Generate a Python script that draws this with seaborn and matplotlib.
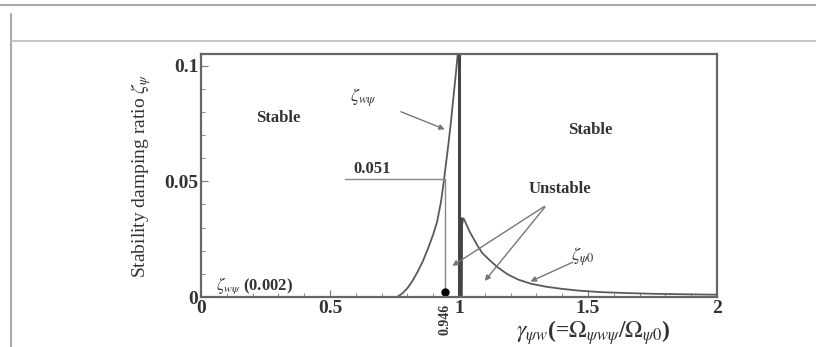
import matplotlib
matplotlib.use("Agg")
import matplotlib.pyplot as plt
import seaborn as sns
from matplotlib.lines import Line2D
from matplotlib.ticker import MultipleLocator

# Damping ratio curves
gamma_wpsi = [0.76, 0.78, 0.80, 0.82, 0.84, 0.86, 0.88, 0.90, 0.915, 0.93, 0.94,
              0.95, 0.96, 0.97, 0.98, 0.99, 0.995, 1.0, 1.0]
zeta_wpsi = [0.0, 0.0015, 0.0038, 0.007, 0.011, 0.0155, 0.021, 0.027, 0.0325, 0.041, 0.049,
             0.058, 0.067, 0.077, 0.088, 0.099, 0.105, 0.105, 0.0]

gamma_psi0 = [1.008, 1.012, 1.016, 1.02, 1.03, 1.04, 1.055, 1.07, 1.09, 1.12, 1.15, 1.19,
              1.23, 1.28, 1.34, 1.40, 1.47, 1.55, 1.65, 1.75, 1.86, 2.0]
zeta_psi0 = [0.0, 0.031, 0.034, 0.0335, 0.031, 0.0285, 0.0255, 0.0225, 0.019, 0.0158, 0.0128, 0.0097,
             0.0075, 0.0057, 0.0044, 0.0035, 0.0027, 0.0021, 0.0017, 0.0014, 0.0012, 0.001]

# marked point and level
gamma_mark = 0.946
zeta_mark = 0.051
zeta_min = 0.002

x_ticks = [0, 0.5, 1, 1.5, 2]
x_tick_labels = ["0", "0.5", "1", "1.5", "2"]
y_ticks = [0, 0.05, 0.1]
y_tick_labels = ["0", "0.05", "0.1"]

sns.set_style("ticks")
plt.rcParams["font.family"] = ["Liberation Serif", "DejaVu Serif"]
plt.rcParams["mathtext.fontset"] = "stix"

line_col = "#5a5a5a"
fig = plt.figure(figsize=(8.16, 3.47), dpi=100)
ax = fig.add_axes([201 / 816, 1 - 297 / 347, 516 / 816, 243 / 347])

sns.lineplot(x=gamma_wpsi, y=zeta_wpsi, sort=False, estimator=None, ax=ax,
             color=line_col, linewidth=1.3)
sns.lineplot(x=gamma_psi0, y=zeta_psi0, sort=False, estimator=None, ax=ax,
             color=line_col, linewidth=1.3)
# thick unstable boundary at gamma = 1
sns.lineplot(x=[1.0, 1.0], y=[0.0, 0.105], sort=False, estimator=None, ax=ax,
             color="#444444", linewidth=2.2)
sns.lineplot(x=[1.008, 1.008], y=[0.0, 0.034], sort=False, estimator=None, ax=ax,
             color="#444444", linewidth=1.8)

# 0.946 / 0.051 guide lines
ax.plot([gamma_mark, gamma_mark], [0, zeta_mark], color="#888888", lw=1.0)
ax.plot([0.56, gamma_mark], [zeta_mark, zeta_mark], color="#888888", lw=1.0)
ax.plot([gamma_mark], [zeta_min], "o", color="black", ms=5)

ax.set_xlim(0, 2)
ax.set_ylim(0, 0.105)
ax.set_xticks(x_ticks)
ax.set_xticklabels(x_tick_labels)
ax.set_yticks(y_ticks)
ax.set_yticklabels(y_tick_labels)
ax.xaxis.set_minor_locator(MultipleLocator(0.1))
ax.yaxis.set_minor_locator(MultipleLocator(0.01))
ax.tick_params(which="both", direction="in", color="#777777", top=False, right=False)
ax.tick_params(which="major", length=5, labelsize=14, pad=2)
ax.tick_params(which="minor", length=3)
for lab in ax.get_xticklabels() + ax.get_yticklabels():
    lab.set_fontweight("bold")
    lab.set_color("#333333")
for sp in ax.spines.values():
    sp.set_visible(True)
    sp.set_color("#666666")
    sp.set_linewidth(1.6)

txt = dict(color="#333333", fontweight="bold")
ax.text(0.30, 0.0775, "Stable", ha="center", va="center", fontsize=12, **txt)
ax.text(1.51, 0.072, "Stable", ha="center", va="center", fontsize=12, **txt)
ax.text(1.39, 0.0465, "Unstable", ha="center", va="center", fontsize=12, **txt)
ax.text(0.663, 0.0555, "0.051", ha="center", va="center", fontsize=12, **txt)
ax.text(0.06, 0.005, r"$\zeta_{w\psi}$ (0.002)", ha="left", va="center", fontsize=12, **txt)
ax.text(0.628, 0.086, r"$\zeta_{w\psi}$", ha="center", va="center", fontsize=13, color="#333333")
ax.text(1.48, 0.0173, r"$\zeta_{\psi 0}$", ha="center", va="center", fontsize=13, color="#333333")
ax.text(gamma_mark, -0.003, "0.946", rotation=90, ha="center", va="top", fontsize=10, **txt)

arrow = dict(arrowstyle="-|>", color="#777777", lw=1.0, mutation_scale=8)
ax.annotate("", xy=(0.955, 0.072), xytext=(0.765, 0.0805), arrowprops=arrow)
ax.annotate("", xy=(0.965, 0.0128), xytext=(1.34, 0.0398), arrowprops=arrow)
ax.annotate("", xy=(1.093, 0.006), xytext=(1.34, 0.0398), arrowprops=arrow)
ax.annotate("", xy=(1.267, 0.0062), xytext=(1.45, 0.0155), arrowprops=arrow)

ax.set_xlabel("")
ax.set_ylabel(r"Stability damping ratio $\zeta_{\psi}$", fontsize=14, color="#333333", labelpad=8)
ax.text(1.52, -0.0155, r"$\gamma_{\psi w}$(=$\Omega_{\psi w\psi}/\Omega_{\psi 0}$)",
        ha="center", va="center", fontsize=17, fontweight="bold", color="#333333")

# page frame around the figure
fig.add_artist(Line2D([0, 1], [1 - 4.5 / 347] * 2, color="#aaaaaa", lw=1.5))
fig.add_artist(Line2D([11 / 816] * 2, [1 - 14 / 347, 0], color="#aaaaaa", lw=1.5))
fig.add_artist(Line2D([11 / 816, 1], [1 - 41 / 347] * 2, color="#bbbbbb", lw=1.2))

fig.savefig("out.png", dpi=100)
